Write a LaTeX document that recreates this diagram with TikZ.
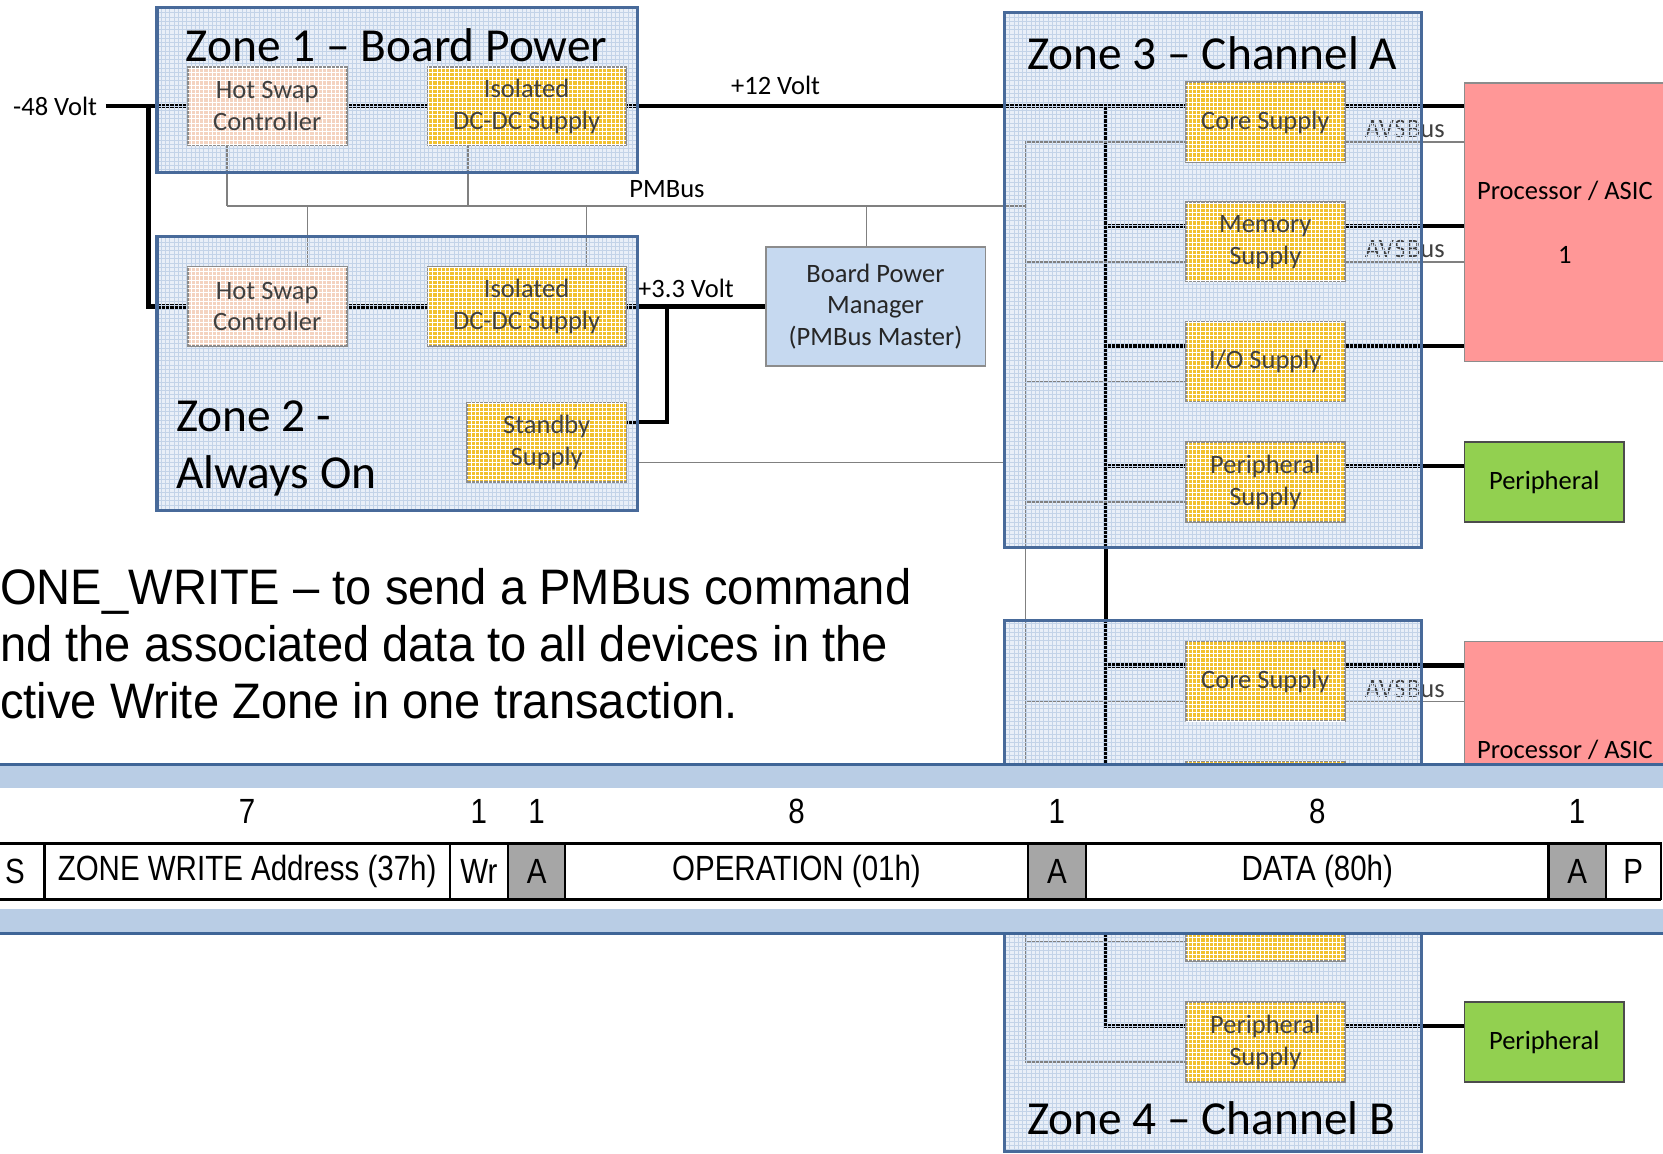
\documentclass[tikz,border=0pt]{standalone}
\usepackage{fontspec}
\setmainfont{Carlito}
\newfontfamily\slidefont[FakeStretch=0.945]{Liberation Sans}
\newfontfamily\framefont[FakeStretch=0.843]{Liberation Sans}
\usepackage{tikz}
\usetikzlibrary{positioning,patterns}
\pgfdeclarelayer{zones}
\pgfdeclarelayer{wires}
\pgfdeclarelayer{gridded}
\pgfsetlayers{zones,wires,gridded,main}
\newdimen\pxu
\pxu=0.75pt
\definecolor{zonefill}{HTML}{E9EFF8}
\definecolor{zonegrid}{HTML}{C3D3E8}
\definecolor{zoneedge}{HTML}{486A9A}
\definecolor{hotswap}{HTML}{F4D3C0}
\definecolor{supplygold}{HTML}{F2C12E}
\definecolor{mgrblue}{HTML}{C6D9F0}
\definecolor{asicpink}{HTML}{FF9797}
\definecolor{periphgreen}{HTML}{92D050}
\definecolor{boxedge}{HTML}{8C8C8C}
\definecolor{labelgray}{HTML}{404040}
\definecolor{busgray}{HTML}{808080}
\definecolor{ackgray}{HTML}{A6A6A6}
\definecolor{bandlight}{HTML}{B9CDE5}
\definecolor{bandedge}{HTML}{3F6597}
\tikzstyle{zonebg}=[
  fill=zonefill, draw=none, inner sep=0pt, outer sep=0pt
]
\tikzstyle{zonegridded}=[
  pattern=grid, pattern color=zonegrid
]
\tikzstyle{zoneframe}=[
  draw=zoneedge, line width=2.25pt
]
\tikzstyle{zonetitle}=[
  font=\fontsize{33.5}{40.5}\selectfont, inner sep=0pt
]
\tikzstyle{blk}=[
  draw=boxedge, line width=1.1pt, inner sep=0pt, align=center, text=labelgray,
  font=\fontsize{18.75}{22.5}\selectfont
]
\tikzstyle{textured}=[
  postaction={pattern=grid, pattern color=white, fill opacity=0.3}
]
\tikzstyle{hotswapbox}=[
  blk, fill=hotswap, textured, minimum width=150\pxu, minimum height=74\pxu
]
\tikzstyle{supply}=[
  blk, fill=supplygold, textured, minimum width=150\pxu, minimum height=75\pxu
]
\tikzstyle{isosupply}=[
  supply, minimum width=187\pxu, minimum height=74\pxu
]
\tikzstyle{mgr}=[
  blk, fill=mgrblue, text=black!85, minimum width=207\pxu, minimum height=112\pxu
]
\tikzstyle{asic}=[
  blk, fill=asicpink, text=black, minimum width=189\pxu, minimum height=263\pxu
]
\tikzstyle{periph}=[
  blk, fill=periphgreen, draw=black!70, text=black, minimum width=150\pxu, minimum height=75\pxu
]
\tikzstyle{power}=[
  line width=3pt, black
]
\tikzstyle{pmbus}=[
  line width=1.1pt, draw=busgray
]
\tikzstyle{wirelabel}=[
  font=\fontsize{18.75}{22.5}\selectfont, inner sep=0pt
]
\tikzstyle{slidetext}=[
  font=\slidefont\fontsize{35.25}{40.5}\selectfont, align=left, inner sep=0pt
]
\tikzstyle{cell}=[
  draw=black, line width=1.5pt, inner sep=0pt, outer sep=0pt, minimum height=53\pxu,
  font=\framefont\fontsize{24.75}{28}\selectfont
]
\tikzstyle{ackcell}=[
  cell, fill=ackgray
]
\tikzstyle{bitcount}=[
  font=\framefont\fontsize{24.75}{28}\selectfont, inner sep=0pt
]
\tikzstyle{frameedge}=[
  line width=2.25pt, black
]
\tikzstyle{bandrule}=[
  line width=2.25pt, bandedge
]
\begin{document}
\begin{tikzpicture}[x=0.75pt, y=-0.75pt]
    \useasboundingbox (0,0) rectangle (1568,1088);
    \clip (0,0) rectangle (1568,1088);
    % zone backgrounds
    \begin{pgfonlayer}{zones}
    \foreach \z/\cx/\cy/\w/\h in {zone1/374.5/85/453/156, zone2/374.5/352/453/258,
        zone3/1143.5/264/393/504, zone4/1143.5/835.5/393/501}
      \node (\z) [zonebg, minimum width=\w\pxu, minimum height=\h\pxu] at (\cx,\cy) {};
    \end{pgfonlayer}
    % board power
    \node (v48) at (52,100) [wirelabel, inner xsep=6pt] {-48 Volt};
    \node (hs1) at (252,100) [hotswapbox] {Hot Swap\\Controller};
    \node (iso1) at (496.5,100) [isosupply] {Isolated\\DC-DC Supply};
    \node (hs2) at (252,289) [hotswapbox] {Hot Swap\\Controller};
    \node (iso2) at (496.5,289) [isosupply] {Isolated\\DC-DC Supply};
    \node (stby) at (515.5,417) [supply] {Standby\\Supply};
    \node (bpm) at (825.5,289) [mgr] {Board Power\\Manager\\(PMBus Master)};
    % channel supplies
    \foreach \nm/\yc/\txt in {corea/115/{Core Supply}, mema/228/{Memory\\Supply},
        ioa/341/{I/O Supply}, pera/454.5/{Peripheral\\Supply},
        coreb/642.5/{Core Supply}, memb/755.5/{}, iob/868.5/{},
        perb/982.5/{Peripheral\\Supply}}
      \node (\nm) at (1193,\yc) [supply] {\txt};
    \node (asica) at (1475.5,209.5) [asic] {Processor / ASIC\\[22.5pt]1};
    \node (asicb) at (1475.5,736.5) [asic] {Processor / ASIC\\[22.5pt]\phantom{1}};
    \node (periphera) at (1456,454.5) [periph] {Peripheral};
    \node (peripherb) at (1456,982.5) [periph] {Peripheral};
    \coordinate (j48) at (140,100);
    \coordinate (j33) at (629,289);
    \coordinate (pmbl) at (214,194);
    \coordinate (pmbr) at (967,194);
    \coordinate (bustop) at (1043,100);
    \coordinate (pmtop) at (967,134);
    \begin{pgfonlayer}{wires}
    % power rails
    \draw[power] (v48) -- (hs1);
    \draw[power] (j48) |- (hs2);
    \draw[power] (hs1) -- (iso1);
    \draw[power] (hs2) -- (iso2);
    \draw[power] (iso1) -- node[wirelabel, pos=0.267, above=9\pxu] {+12 Volt} ([yshift=15\pxu]corea.west);
    \draw[power] (iso2) -- node[wirelabel, pos=0.43, above=6\pxu] {+3.3 Volt} (bpm);
    \draw[power] ([yshift=19\pxu]stby.east) -| (j33);
    \draw[power] (bustop) |- ([yshift=15\pxu]perb.west);
    \foreach \nm in {mema,ioa,pera,coreb,memb,iob}
      \draw[power] ([yshift=15\pxu]\nm.west) -| (bustop);
    \foreach \nm/\dest in {corea/asica, mema/asica, ioa/asica, pera/periphera,
        coreb/asicb, memb/asicb, iob/asicb, perb/peripherb}
      \draw[power] ([yshift=15\pxu]\nm.east) -- ([yshift=15\pxu]\nm.east -| \dest.west);
    % pmbus
    \draw[pmbus] ([xshift=-38\pxu]hs1.south) |- (pmbl);
    \draw[pmbus] (pmbl) -- node[wirelabel, pos=0.551, above=7\pxu] {PMBus} (pmbr);
    \draw[pmbus] ([xshift=-55.5\pxu]iso1.south) |- (pmbl);
    \draw[pmbus] ([xshift=38\pxu]hs2.north) |- (pmbl);
    \draw[pmbus] ([xshift=56.5\pxu]iso2.north) |- (pmbr);
    \draw[pmbus] ([xshift=-8.5\pxu]bpm.north) |- (pmbr);
    \draw[pmbus] ([yshift=-19\pxu]stby.east) -| (pmtop);
    \draw[pmbus] ([yshift=-19\pxu]corea.west) -- (pmtop) |- ([yshift=-19\pxu]perb.west);
    \foreach \nm in {mema,ioa,pera,coreb,memb,iob}
      \draw[pmbus] ([yshift=-19\pxu]\nm.west) -| (pmtop);
    \foreach \nm/\dest in {corea/asica, mema/asica, coreb/asicb}
      \draw[pmbus] ([yshift=-19\pxu]\nm.east) -- node[wirelabel, text=labelgray, above=3\pxu] {AVSBus} ([yshift=-19\pxu]\nm.east -| \dest.west);
    \draw[pmbus] ([yshift=-19\pxu]memb.east) -- ([yshift=-19\pxu]memb.east -| asicb.west);
    \end{pgfonlayer}
    % zone grid and frames
    \begin{pgfonlayer}{gridded}
    \foreach \z in {zone1,zone2,zone3,zone4} {
      \fill[zonegridded] (\z.north west) rectangle (\z.south east);
      \draw[zoneframe] (\z.north west) rectangle (\z.south east);
    }
    \end{pgfonlayer}
    \node (z1title) [zonetitle] at (374,43) {Zone 1 – Board Power};
    \node (z2title) [zonetitle, align=left, anchor=west] at (166,423) {Zone 2 -\\Always On};
    \node (z3title) [zonetitle] at (1143,50) {Zone 3 – Channel A};
    \node (z4title) [zonetitle] at (1142,1054) {Zone 4 – Channel B};
    % slide text
    \node (zwtext) [slidetext, anchor=west] at (0,607)
      {ONE\_WRITE – to send a PMBus command\\nd the associated data to all devices in the\\ctive Write Zone in one transaction.};
    % protocol band
    \fill[white] (0,720) rectangle (1568,882);
    \fill[bandlight] (0,722) rectangle (1568,743);
    \fill[bandlight] (0,857) rectangle (1568,879);
    \draw[bandrule] (0,721) -- (1568,721);
    \draw[bandrule] (0,880) -- (1568,880);
    \node (sbit) [cell, minimum width=56\pxu] at (14,821.5) {S};
    \node (addr) [cell, minimum width=382\pxu, right=0pt of sbit] {ZONE WRITE Address (37h)};
    \node (wr) [cell, minimum width=55\pxu, right=0pt of addr] {Wr};
    \node (ack1) [ackcell, minimum width=54\pxu, right=0pt of wr] {A};
    \node (oper) [cell, minimum width=436\pxu, right=0pt of ack1] {OPERATION (01h)};
    \node (ack2) [ackcell, minimum width=55\pxu, right=0pt of oper] {A};
    \node (dat) [cell, minimum width=436\pxu, right=0pt of ack2] {DATA (80h)};
    \node (ack3) [ackcell, minimum width=54\pxu, right=0pt of dat] {A};
    \node (pbit) [cell, minimum width=52\pxu, right=0pt of ack3] {P};
    \draw[frameedge] (sbit.north west) -- (pbit.north east);
    \draw[frameedge] (sbit.south west) -- (pbit.south east);
    \foreach \c/\n in {addr/7, wr/1, ack1/1, oper/8, ack2/1, dat/8, ack3/1}
      \node (n\c) [bitcount] at ([yshift=30\pxu]\c.north) {\n};
\end{tikzpicture}
\end{document}
